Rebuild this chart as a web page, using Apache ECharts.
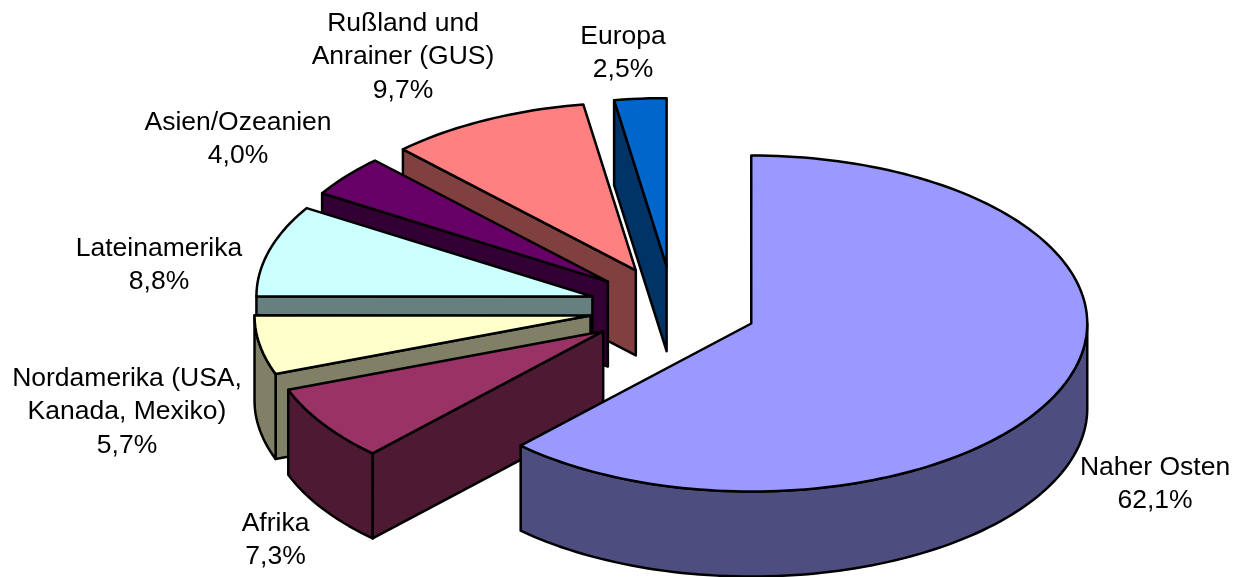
<!DOCTYPE html>
<html>
<head>
<meta charset="utf-8">
<style>
  html, body { margin: 0; padding: 0; background: #fff; }
  #chart { width: 1242px; height: 577px; }
</style>
<script src="https://cdn.jsdelivr.net/npm/echarts@6/dist/echarts.min.js"></script>
</head>
<body>
<div id="chart"></div>
<script>
// listed counter-clockwise from 12 o'clock, so the back slices get painted first
var categories = [
  "Europa",
  "Rußland und\nAnrainer (GUS)",
  "Asien/Ozeanien",
  "Lateinamerika",
  "Nordamerika (USA,\nKanada, Mexiko)",
  "Afrika",
  "Naher Osten"
];
var shares = [2.5, 9.7, 4.0, 8.8, 5.7, 7.3, 62.1];

var topColors = ["#0066cc", "#ff8080", "#660066", "#ccffff", "#ffffcc", "#993366", "#9999ff"];
var sideColors = ["#003366", "#804040", "#330033", "#668080", "#808066", "#4d1933", "#4d4d80"];

// label centres (middle of the whole text block)
var labelX = [623, 403, 238, 159, 127, 275.5, 1155];
var labelY = [53.5, 57, 139.5, 265, 412, 540.5, 484.5];

var centerX = 673.2, centerY = 308;
var radiusX = 336, radiusY = 168;
var explode = 0.25;
var depth = 85;

function rad(deg) { return deg * Math.PI / 180; }

// point on the rim ellipse, angle clockwise from 12 o'clock
function rim(apex, deg, drop) {
  return [
    apex[0] + radiusX * Math.sin(rad(deg)),
    apex[1] - radiusY * Math.cos(rad(deg)) + (drop || 0)
  ];
}

function arc(apex, from, to, drop) {
  var pts = [];
  var n = Math.max(2, Math.ceil(Math.abs(to - from) / 1.5));
  for (var i = 0; i <= n; i++) {
    pts.push(rim(apex, from + (to - from) * i / n, drop));
  }
  return pts;
}

function face(points, fill) {
  return {
    type: "polygon",
    shape: { points: points },
    style: { fill: fill, stroke: "#000", lineWidth: 2.5, lineJoin: "round" }
  };
}

function renderSlice(params, api) {
  var i = params.dataIndex;
  var end = api.value(0);
  var start = api.value(1);
  var mid = (start + end) / 2;
  var apex = [
    centerX + explode * radiusX * Math.sin(rad(mid)),
    centerY - explode * radiusY * Math.cos(rad(mid))
  ];
  var low = [apex[0], apex[1] + depth];
  var kids = [];

  // cut face on the slice's start edge, only when it looks towards the viewer
  if (Math.sin(rad(start)) < -1e-6) {
    var a = rim(apex, start);
    kids.push(face([a, apex, low, rim(apex, start, depth)], sideColors[i]));
  }
  // outer wall, the front half of the ellipse only
  var wallFrom = Math.max(start, 90), wallTo = Math.min(end, 270);
  if (wallTo > wallFrom) {
    var upper = arc(apex, wallFrom, wallTo);
    var lower = arc(apex, wallTo, wallFrom, depth);
    kids.push(face(upper.concat(lower), sideColors[i]));
  }
  // top
  kids.push(face([apex].concat(arc(apex, start, end)), topColors[i]));

  var pct = api.value(2).toFixed(1).replace(".", ",") + "%";
  kids.push({
    type: "text",
    style: {
      x: labelX[i],
      y: labelY[i],
      text: categories[i] + "\n" + pct,
      fill: "#000",
      font: '26.5px "Liberation Sans", Arial, sans-serif',
      lineHeight: 33.3,
      align: "center",
      verticalAlign: "middle"
    }
  });
  return { type: "group", children: kids };
}

// printed shares add up to 100,1 because of rounding, so scale by the real total
var total = shares.reduce(function (s, v) { return s + v; }, 0);

// slice angles follow from the shares, walking back from 360
var angleData = [];
var walk = 360;
shares.forEach(function (v, i) {
  var next = walk - v / total * 360;
  angleData.push({ name: categories[i], value: [walk, next, v] });
  walk = next;
});

var chart = echarts.init(document.getElementById("chart"));
chart.setOption({
  animation: false,
  backgroundColor: "#fff",
  series: [
    {
      type: "custom",
      coordinateSystem: "none",
      renderItem: renderSlice,
      data: angleData
    }
  ]
});
</script>
</body>
</html>
